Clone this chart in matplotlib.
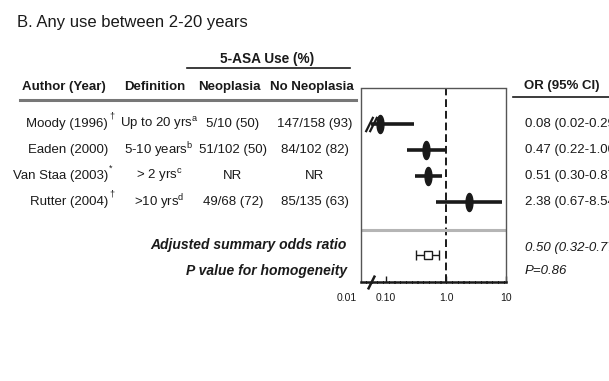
import matplotlib
matplotlib.use("Agg")
import matplotlib.pyplot as plt
import matplotlib.transforms as mtransforms
from matplotlib.lines import Line2D
import numpy as np

# ---- study data -------------------------------------------------------
studies = ["Moody (1996)", "Eaden (2000)", "Van Staa (2003)", "Rutter (2004)"]
study_marks = ["\u2020", "", "*", "\u2020"]
definitions = ["Up to 20 yrs", "5-10 years", "> 2 yrs", ">10 yrs"]
definition_notes = ["a", "b", "c", "d"]
neoplasia = ["5/10 (50)", "51/102 (50)", "NR", "49/68 (72)"]
no_neoplasia = ["147/158 (93)", "84/102 (82)", "NR", "85/135 (63)"]
odds_ratio = [0.08, 0.47, 0.51, 2.38]
ci_low = [0.02, 0.22, 0.30, 0.67]
ci_high = [0.29, 1.00, 0.87, 8.54]

summary_or = 0.50
summary_low = 0.32
summary_high = 0.77
p_homogeneity = 0.86

tick_values = [0.1, 1.0, 10]
tick_labels = ["0.10", "1.0", "10"]
floor_label = "0.01"

# ---- styling ----------------------------------------------------------
plt.rcParams["font.family"] = ["Liberation Sans", "DejaVu Sans"]
plt.rcParams["mathtext.fontset"] = "custom"
plt.rcParams["mathtext.rm"] = "Liberation Sans"
plt.rcParams["mathtext.it"] = "Liberation Sans:italic"
INK = "#1a1a1a"
FS = 9.5          # body text
FS_HDR = 9.5      # bold column headers

W, H = 609, 381
fig = plt.figure(figsize=(W / 100, H / 100), dpi=100)


def fx(px):
    return px / W


def fy(py):
    return 1 - py / H


# forest panel
ax_l, ax_r, ax_t, ax_b = 361, 506, 88, 282
ax = fig.add_axes([fx(ax_l), fy(ax_b), fx(ax_r - ax_l), (ax_b - ax_t) / H])
ax.set_xscale("log")
x_min, x_max = 10 ** (-85 / 60), 10.0
ax.set_xlim(x_min, x_max)
row0, row_gap = 124, 26
ax.set_ylim((ax_b - row0) / row_gap, (ax_t - row0) / row_gap)

rows = np.arange(len(studies))
x_break = 10 ** (-75 / 60)

# spines
for side in ("left", "top", "right"):
    ax.spines[side].set_linestyle((0, (1, 1)))
    ax.spines[side].set_linewidth(1.0)
    ax.spines[side].set_color("#555555")
ax.spines["bottom"].set_linestyle((0, (1.5, 0.8)))
ax.spines["bottom"].set_linewidth(1.8)
ax.spines["bottom"].set_color(INK)
ax.set_yticks([])
ax.set_xticks(tick_values)
ax.set_xticklabels([])
ax.xaxis.set_minor_locator(matplotlib.ticker.NullLocator())
ax.tick_params(axis="x", direction="in", length=4, width=1, color=INK)

# reference line at OR = 1
ax.axvline(1.0, color=INK, lw=1.4, ls=(0, (4, 2)), zorder=1)

# separator between studies and summary
sep_row = (230 - row0) / row_gap
ax.axhline(sep_row, color="#b5b5b5", lw=2.2, zorder=1)

# vertical-ellipse marker for point estimates
t = np.linspace(0, 2 * np.pi, 40)
ellipse = list(zip(0.38 * np.cos(t), np.sin(t)))

for r, orv, lo, hi in zip(rows, odds_ratio, ci_low, ci_high):
    lo_drawn = max(lo, x_break)
    ax.plot([lo_drawn, hi], [r, r], color=INK, lw=2.6, solid_capstyle="butt", zorder=3)
    ax.plot([orv], [r], marker=ellipse, ms=13, color=INK, mec=INK, zorder=4)
    if lo < x_min:
        # truncated interval: break marks
        ax.plot([x_break * 10 ** (-2 / 60), x_break * 10 ** (2 / 60)], [r, r],
                ls="none", marker=[(-0.5, -1), (0.5, 1)], ms=11, mew=1.6,
                color=INK, zorder=5)

# axis break mark on the bottom line
ax.plot([x_break], [ax.get_ylim()[0]], ls="none", marker=[(-0.5, -1), (0.5, 1)],
        ms=10, mew=1.8, color=INK, clip_on=False, zorder=6)

# summary estimate
sum_row = (255 - row0) / row_gap
ax.errorbar([summary_or], [sum_row],
            xerr=[[summary_or - summary_low], [summary_high - summary_or]],
            fmt="s", ms=6, mfc="white", mec=INK, mew=1.0, ecolor=INK,
            elinewidth=1.0, capsize=3.5, capthick=1.0, zorder=4)

# x tick labels
lab_y = fy(298)
for v, lab in zip(tick_values, tick_labels):
    xd = ax.transData.transform((v, 0))[0]
    fig.text(xd / W, lab_y, lab, ha="center", va="center", fontsize=7.5, color=INK)
fig.text(fx(357), lab_y, floor_label, ha="right", va="center", fontsize=7.5, color=INK)

# ---- text table -------------------------------------------------------
row_tr = mtransforms.blended_transform_factory(fig.transFigure, ax.transData)

fig.text(fx(17), fy(22), "B. Any use between 2-20 years", ha="left", va="center",
         fontsize=12, color=INK)

fig.text(fx(267), fy(59), "5-ASA Use (%)", ha="center", va="center",
         fontsize=9.8, fontweight="bold", color=INK)
fig.add_artist(Line2D([fx(187), fx(350)], [fy(68), fy(68)], color=INK, lw=1.2))

hdr_y = fy(87)
for xc, lab in [(64, "Author (Year)"), (155, "Definition"),
                (229, "Neoplasia"), (312, "No Neoplasia")]:
    fig.text(fx(xc), hdr_y, lab, ha="center", va="center",
             fontsize=FS_HDR, fontweight="bold", color=INK)
fig.add_artist(Line2D([fx(20), fx(356)], [fy(100), fy(100)], color="#777777", lw=2.2))

fig.text(fx(562), fy(86), "OR (95% CI)", ha="center", va="center",
         fontsize=FS_HDR, fontweight="bold", color=INK)
fig.add_artist(Line2D([fx(513), fx(609)], [fy(97), fy(97)], color=INK, lw=1.2))

for r, name, mark, d, note, neo, non, orv, lo, hi in zip(
        rows, studies, study_marks, definitions, definition_notes,
        neoplasia, no_neoplasia, odds_ratio, ci_low, ci_high):
    ax.text(fx(108), r, name, transform=row_tr, ha="right", va="center",
            fontsize=FS, color=INK)
    if mark:
        ax.text(fx(109), r - 0.3, mark, transform=row_tr, ha="left", va="center",
                fontsize=6.5, color=INK)
    ax.text(fx(159), r, d + r"$^{\mathrm{" + note + "}}$", transform=row_tr,
            ha="center", va="center", fontsize=FS, color=INK)
    ax.text(fx(233), r, neo, transform=row_tr, ha="center", va="center",
            fontsize=FS, color=INK)
    ax.text(fx(315), r, non, transform=row_tr, ha="center", va="center",
            fontsize=FS, color=INK)
    ax.text(fx(525), r, f"{orv:.2f} ({lo:.2f}-{hi:.2f})", transform=row_tr,
            ha="left", va="center", fontsize=FS, color=INK)

adj_row = (245 - row0) / row_gap
p_row = (271 - row0) / row_gap
ax.text(fx(347), adj_row, "Adjusted summary odds ratio", transform=row_tr,
        ha="right", va="center", fontsize=10, fontweight="bold",
        fontstyle="italic", color=INK)
ax.text(fx(347), p_row, "P value for homogeneity", transform=row_tr,
        ha="right", va="center", fontsize=10, fontweight="bold",
        fontstyle="italic", color=INK)
ax.text(fx(525), (248 - row0) / row_gap,
        f"{summary_or:.2f} ({summary_low:.2f}-{summary_high:.2f})",
        transform=row_tr, ha="left", va="center", fontsize=FS,
        fontstyle="italic", color=INK)
ax.text(fx(525), p_row, f"P={p_homogeneity:.2f}", transform=row_tr,
        ha="left", va="center", fontsize=FS, fontstyle="italic", color=INK)

fig.savefig("out.png", dpi=100, facecolor="white")
